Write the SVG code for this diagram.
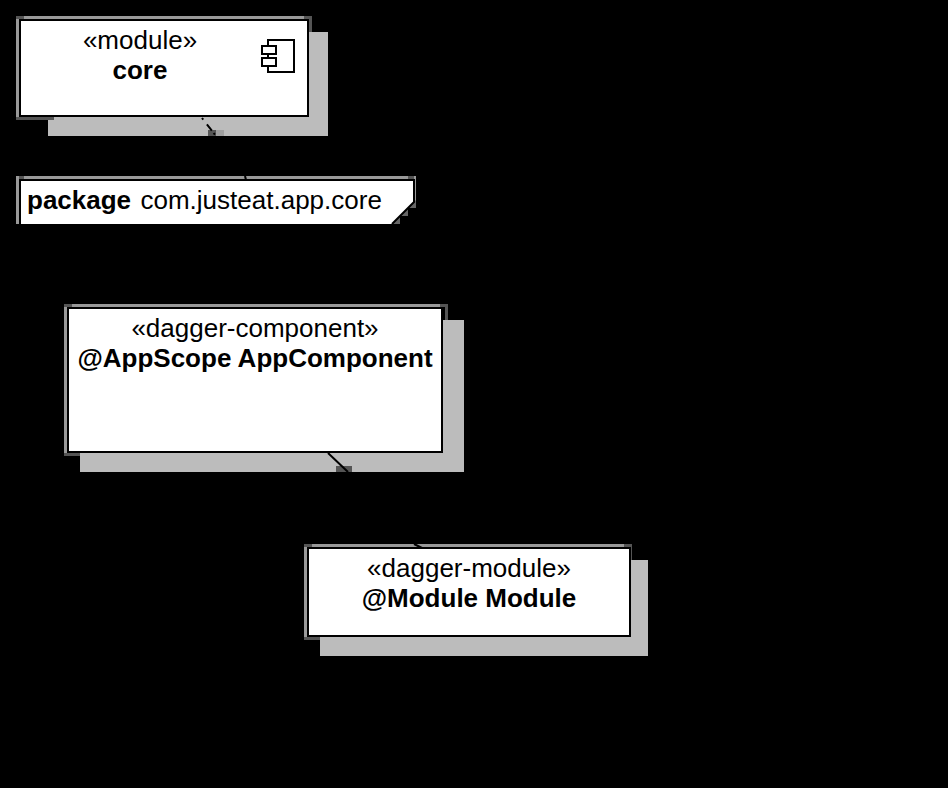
<svg xmlns="http://www.w3.org/2000/svg" width="948" height="788" viewBox="0 0 948 788">
<style>
text{font-family:"Liberation Sans",Arial,sans-serif;font-size:26px;fill:#000}
.b{font-weight:bold}
.m{text-anchor:middle}
.shadow{fill:#bcbcbc}
.strip{fill:#999}
.corner{fill:#555}
.body{fill:#fff;stroke:#000;stroke-width:2}
.line{fill:none;stroke:#000;stroke-width:2}
</style>
<rect width="948" height="788" fill="#000"/>
<g id="core">
<rect class="shadow" x="48" y="32" width="280" height="104"/>
<rect x="312" y="16" width="16" height="16" fill="#000"/>
<rect class="strip" x="16" y="16" width="296" height="3"/>
<rect class="strip" x="16" y="16" width="3" height="104"/>
<rect class="corner" x="309" y="16" width="3" height="16"/>
<rect class="corner" x="16" y="117" width="38" height="3"/>
<rect class="corner" x="16" y="16" width="8" height="3"/>
<rect class="corner" x="304" y="16" width="8" height="3"/>
<rect class="body" x="20" y="20" width="288" height="96"/>
<text class="m" x="140" y="49">«module»</text>
<text class="m b" x="140" y="79">core</text>
<rect class="line" x="268" y="40" width="26" height="32"/>
<rect x="262" y="46" width="14" height="8" fill="#fff" stroke="#000" stroke-width="2"/>
<rect x="262" y="58" width="14" height="8" fill="#fff" stroke="#000" stroke-width="2"/>
</g>
<g id="package">
<rect class="strip" x="16" y="176" width="400" height="3"/>
<rect class="corner" x="16" y="176" width="8" height="3"/>
<rect class="corner" x="408" y="176" width="8" height="3"/>
<rect class="strip" x="16" y="176" width="3" height="48"/>
<rect class="strip" x="414" y="176" width="2" height="32"/>
<path fill="#666" d="M416 200 L416 208 L408 208Z"/>
<path fill="#666" d="M408 208 L408 216 L400 216Z"/>
<path fill="#666" d="M400 216 L400 224 L392 224Z"/>
<path d="M20 180 H414 V202 L392 224 H20Z" fill="#fff"/>
<path class="line" d="M20 224 V180 H414 V202 L392 224"/>
<text class="b" x="27" y="209">package</text>
<text x="140.500" y="209">com.justeat.app.core</text>
</g>
<g id="appcomponent">
<rect class="shadow" x="80" y="320" width="384" height="152"/>
<rect x="448" y="304" width="16" height="16" fill="#000"/>
<rect class="strip" x="64" y="304" width="384" height="3"/>
<rect class="strip" x="64" y="304" width="3" height="152"/>
<rect class="corner" x="445" y="304" width="3" height="16"/>
<rect class="corner" x="64" y="304" width="8" height="3"/>
<rect class="corner" x="440" y="304" width="8" height="3"/>
<rect class="corner" x="64" y="453" width="16" height="3"/>
<rect class="body" x="68" y="308" width="374" height="144"/>
<text class="m" x="255" y="337">«dagger-component»</text>
<text class="m b" x="255" y="367">@AppScope AppComponent</text>
</g>
<g id="module">
<rect class="shadow" x="320" y="560" width="328" height="96"/>
<rect x="632" y="544" width="16" height="16" fill="#000"/>
<rect class="strip" x="304" y="544" width="328" height="3"/>
<rect class="strip" x="304" y="544" width="3" height="96"/>
<rect class="corner" x="629" y="544" width="3" height="16"/>
<rect class="corner" x="304" y="544" width="8" height="3"/>
<rect class="corner" x="624" y="544" width="8" height="3"/>
<rect class="corner" x="304" y="637" width="16" height="3"/>
<rect class="body" x="308" y="548" width="322" height="88"/>
<text class="m" x="469" y="577">«dagger-module»</text>
<text class="m b" x="469" y="607">@Module Module</text>
</g>
<g id="connectors">
<rect class="corner" x="208" y="130" width="8" height="6"/>
<rect x="216" y="130" width="8" height="6" fill="#a0a0a0"/>
<path d="M202 118 L216 136" stroke="#000" stroke-width="2" stroke-dasharray="2 6 8 3" fill="none"/>
<path d="M245 176 L246 180" stroke="#000" stroke-width="2" fill="none"/>
<rect class="corner" x="336" y="466" width="16" height="6"/>
<path d="M328 453 L348 472" stroke="#000" stroke-width="2" fill="none"/>
<path d="M414 544 L422 548" stroke="#000" stroke-width="2" fill="none"/>
</g>
</svg>
